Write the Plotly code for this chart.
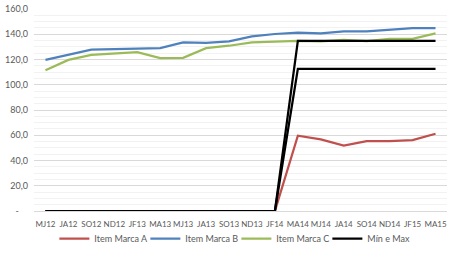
import plotly.graph_objects as go

categories = ["MJ12", "JA12", "SO12", "ND12", "JF13", "MA13", "MJ13", "JA13", "SO13",
              "ND13", "JF14", "MA14", "MJ14", "JA14", "SO14", "ND14", "JF15", "MA15"]

marca_a = [0, 0, 0, 0, 0, 0, 0, 0, 0, 0, 0, 59.6, 56.7, 51.9, 55.4, 55.4, 56.2, 61.2]
marca_b = [119.7, 123.7, 127.9, 128.2, 128.3, 129.0, 133.5, 133.2, 134.3,
           138.3, 140.2, 141.2, 140.7, 142.2, 142.2, 143.6, 144.9, 144.9]
marca_c = [111.5, 119.7, 123.7, 125.0, 125.8, 121.1, 121.3, 129.0, 130.9,
           133.5, 134.3, 134.8, 134.3, 135.6, 134.5, 136.4, 136.4, 140.7]
min_vals = [0, 0, 0, 0, 0, 0, 0, 0, 0, 0, 0, 112.6, 112.6, 112.6, 112.6, 112.6, 112.6, 112.6]
max_vals = [0, 0, 0, 0, 0, 0, 0, 0, 0, 0, 0, 134.8, 134.8, 134.8, 134.8, 134.8, 134.8, 134.8]

y_tickvals = [0, 20, 40, 60, 80, 100, 120, 140, 160]
y_ticktext = ["-    ", "20,0", "40,0", "60,0", "80,0", "100,0", "120,0", "140,0", "160,0"]

FONT = "Lato"
fig = go.Figure()
fig.add_trace(go.Scatter(x=categories, y=marca_a, mode="lines", name="Item Marca A",
                         line=dict(color="#C0504D", width=2.25)))
fig.add_trace(go.Scatter(x=categories, y=marca_b, mode="lines", name="Item Marca B",
                         line=dict(color="#4F81BD", width=2.25)))
fig.add_trace(go.Scatter(x=categories, y=marca_c, mode="lines", name="Item Marca C",
                         line=dict(color="#9BBB59", width=2.25)))
fig.add_trace(go.Scatter(x=categories, y=min_vals, mode="lines", name="Mín e Max",
                         line=dict(color="#000000", width=2.25), legendgroup="mm"))
fig.add_trace(go.Scatter(x=categories, y=max_vals, mode="lines", name="Mín e Max",
                         line=dict(color="#000000", width=2.25), legendgroup="mm",
                         showlegend=False))

fig.update_layout(
    width=454, height=253,
    margin=dict(l=34, r=7, t=9, b=42),
    paper_bgcolor="white", plot_bgcolor="white",
    font=dict(family=FONT, size=9, color="#595959"),
    showlegend=True,
    legend=dict(orientation="h", xref="paper", x=0.49, xanchor="center",
                yref="container", y=-0.06, yanchor="bottom",
                bgcolor="rgba(0,0,0,0)",
                font=dict(size=9, color="#595959"), itemwidth=30,
                entrywidth=46, entrywidthmode="pixels",
                tracegroupgap=0),
    xaxis=dict(type="category", range=[-0.5, 17.5], showgrid=False, showline=True,
               linecolor="#D9D9D9", ticks="", tickangle=0, automargin=False,
               ticklabelstandoff=5,
               tickfont=dict(size=8, color="#595959"),
               fixedrange=True),
    yaxis=dict(range=[0, 160], tickvals=y_tickvals, ticktext=y_ticktext,
               showgrid=True, gridcolor="#D9D9D9", gridwidth=1, zeroline=False,
               showline=False, ticks="", ticklabelstandoff=5, automargin=False,
               tickfont=dict(size=9, color="#595959"),
               minor=dict(dtick=5, showgrid=True, gridcolor="#F2F2F2", gridwidth=1),
               fixedrange=True),
)

fig.write_html("out.html", config={"displayModeBar": False},
               post_script="document.body.style.margin='0';document.body.style.overflow='hidden';")
